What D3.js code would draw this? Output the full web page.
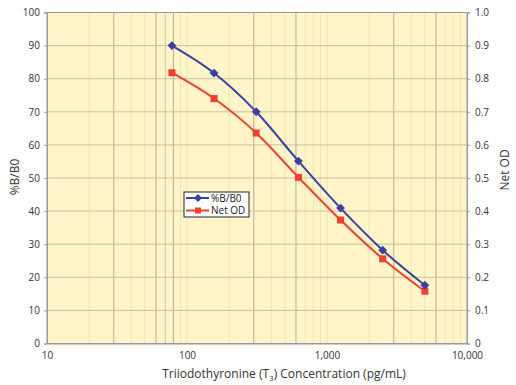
<!DOCTYPE html>
<html><head><meta charset="utf-8">
<script src="https://cdn.jsdelivr.net/npm/d3@7"></script>
<style>
body{margin:0;background:#fff;}
text{font-family:"Open Sans",sans-serif;}
</style></head>
<body><svg id="c" width="516" height="385"></svg>
<script>
const concentrations = [78, 156, 312, 625, 1250, 2500, 5000];
const percentBB0 = [90.0, 81.7, 70.0, 55.1, 40.9, 28.2, 17.6];
const netOD = [0.818, 0.740, 0.636, 0.502, 0.373, 0.256, 0.158];
const xTicks = [10, 100, 1000, 10000];
const leftTicks = [0,10,20,30,40,50,60,70,80,90,100];
const rightTicks = [0,0.1,0.2,0.3,0.4,0.5,0.6,0.7,0.8,0.9,1.0];
const seriesNames = ["%B/B0", "Net OD"];

const svg = d3.select("#c");
const L = 47, R = 467, T = 12.5, B = 343.5;
const x = d3.scaleLog().domain([10, 10000]).range([L, R]);
const yL = d3.scaleLinear().domain([0, 100]).range([B, T]);
const yR = d3.scaleLinear().domain([0, 1]).range([B, T]);

svg.append("rect").attr("x", L).attr("y", T).attr("width", R - L).attr("height", B - T).attr("fill", "#fff5c9");

// vertical minor grid
const minor = [];
[10, 100, 1000].forEach(d => { for (let m = 2; m <= 10; m++) minor.push(m * d); });
const dark = new Set([30, 60, 80, 300, 600, 3000, 6000]);
const med = new Set([70]);
svg.append("g").selectAll("line").data(minor.filter(v => v < 10000)).join("line")
  .attr("x1", d => x(d)).attr("x2", d => x(d)).attr("y1", T).attr("y2", B)
  .attr("stroke", d => dark.has(d) ? "#b3ab95" : med.has(d) ? "#cfc6a6" : "#efe4b6")
  .attr("stroke-width", 1);

// horizontal grid
svg.append("g").selectAll("line").data(leftTicks.filter(v => v > 0 && v < 100)).join("line")
  .attr("x1", L).attr("x2", R).attr("y1", d => yL(d)).attr("y2", d => yL(d))
  .attr("stroke", "#c9c0a2").attr("stroke-width", 1);

// frame
svg.append("rect").attr("x", L).attr("y", T).attr("width", R - L).attr("height", B - T)
  .attr("fill", "none").attr("stroke", "#9a9a9a").attr("stroke-width", 1);

// axes
const fmtX = d3.format(",");
const gx = svg.append("g").attr("transform", `translate(0,${B})`)
  .call(d3.axisBottom(x).tickValues(xTicks).tickFormat(fmtX).tickSize(0).tickPadding(8));
const gl = svg.append("g").attr("transform", `translate(${L},0)`)
  .call(d3.axisLeft(yL).tickValues(leftTicks).tickSize(3).tickPadding(4));
const gr = svg.append("g").attr("transform", `translate(${R},0)`)
  .call(d3.axisRight(yR).tickValues(rightTicks).tickFormat((d) => d === 0 ? "0" : d3.format(".1f")(d)).tickSize(3).tickPadding(5));
[gx, gl, gr].forEach(g => {
  g.select(".domain").attr("stroke", "#9a9a9a");
  g.selectAll(".tick line").attr("stroke", "#9a9a9a");
  g.selectAll("text").attr("font-family", "Open Sans").attr("font-size", 10).attr("fill", "#333");
});

// titles
svg.append("text").attr("x", 284).attr("y", 378).attr("text-anchor", "middle")
  .attr("font-size", 12).attr("fill", "#333")
  .call(t => {
    t.append("tspan").text("Triiodothyronine (T");
    t.append("tspan").attr("font-size", 8).attr("dy", 3).text("3");
    t.append("tspan").attr("dy", -3).text(") Concentration (pg/mL)");
  });
svg.append("text").attr("transform", "translate(19,177) rotate(-90)").attr("text-anchor", "middle")
  .attr("font-size", 12).attr("fill", "#333").text(seriesNames[0]);
svg.append("text").attr("transform", "translate(509,170) rotate(-90)").attr("text-anchor", "middle")
  .attr("font-size", 12).attr("fill", "#333").text(seriesNames[1]);

// series
const blue = "#3b40a0", red = "#ef4030";
const curve = d3.curveCardinal.tension(0);
const d1 = concentrations.map((c, i) => [x(c), yL(percentBB0[i])]);
const d2 = concentrations.map((c, i) => [x(c), yR(netOD[i])]);
const line = d3.line().curve(curve);
svg.append("path").attr("d", line(d2)).attr("fill", "none").attr("stroke", red).attr("stroke-width", 2);
svg.append("path").attr("d", line(d1)).attr("fill", "none").attr("stroke", blue).attr("stroke-width", 2);
svg.append("g").selectAll("rect").data(d2).join("rect")
  .attr("x", d => d[0] - 3.5).attr("y", d => d[1] - 3.5).attr("width", 7).attr("height", 7).attr("fill", red);
const diamond = d3.symbol().type(d3.symbolDiamond2).size(50);
svg.append("g").selectAll("path").data(d1).join("path")
  .attr("transform", d => `translate(${d[0]},${d[1]})`).attr("d", diamond).attr("fill", blue);

// legend
const lg = svg.append("g");
lg.append("rect").attr("x", 184).attr("y", 192).attr("width", 65).attr("height", 25)
  .attr("fill", "#fff").attr("stroke", "#222").attr("stroke-width", 1);
[[blue, 198, "d"], [red, 210.5, "s"]].forEach((e, i) => {
  lg.append("line").attr("x1", 186).attr("x2", 209).attr("y1", e[1]).attr("y2", e[1]).attr("stroke", e[0]).attr("stroke-width", 2);
  if (e[2] === "d") lg.append("path").attr("transform", `translate(198,${e[1]})`).attr("d", d3.symbol().type(d3.symbolDiamond2).size(40)).attr("fill", e[0]);
  else lg.append("rect").attr("x", 195).attr("y", e[1] - 3).attr("width", 6).attr("height", 6).attr("fill", e[0]);
  lg.append("text").attr("x", 211).attr("y", e[1] + 3.5).attr("font-size", 10).attr("fill", "#222").text(seriesNames[i]);
});
</script></body></html>
